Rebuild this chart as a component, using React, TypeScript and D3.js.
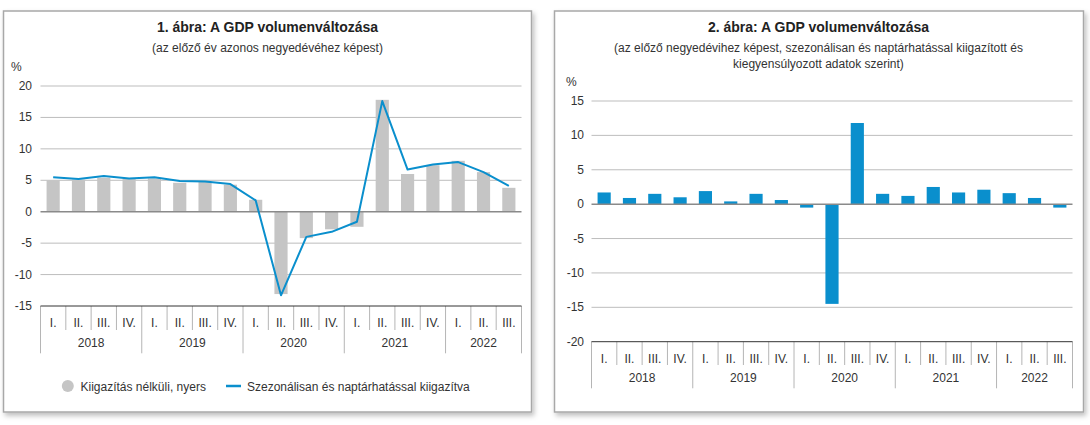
import React from "react";
import * as d3 from "d3";

const years = ["2018", "2019", "2020", "2021", "2022"];
const quarters = ["I.", "II.", "III.", "IV."];
const categories: { q: string; y: string }[] = [];
years.forEach((y) => quarters.forEach((q) => categories.push({ q, y })));
const cats = categories.slice(0, 19);

const rawValues = [5.0, 5.1, 5.4, 5.2, 5.3, 4.6, 4.8, 4.3, 1.9, -13.1, -4.2, -2.8, -2.4, 17.8, 6.0, 7.4, 8.1, 6.3, 3.8];
const adjValues = [5.5, 5.2, 5.7, 5.3, 5.5, 4.9, 4.8, 4.4, 1.8, -13.3, -4.0, -3.2, -1.6, 17.6, 6.7, 7.5, 7.9, 6.3, 4.1];
const qoqValues = [1.7, 0.9, 1.5, 1.0, 1.9, 0.4, 1.5, 0.6, -0.5, -14.5, 11.8, 1.5, 1.2, 2.5, 1.7, 2.1, 1.6, 0.9, -0.5];

const ticks1 = [20, 15, 10, 5, 0, -5, -10, -15];
const ticks2 = [15, 10, 5, 0, -5, -10, -15, -20];

const title1 = "1. ábra: A GDP volumenváltozása";
const sub1 = "(az előző év azonos negyedévéhez képest)";
const title2 = "2. ábra: A GDP volumenváltozása";
const sub2a = "(az előző negyedévihez képest, szezonálisan és naptárhatással kiigazított és";
const sub2b = "kiegyensúlyozott adatok szerint)";
const legend1 = "Kiigazítás nélküli, nyers";
const legend2 = "Szezonálisan és naptárhatással kiigazítva";

const FONT = "'Liberation Sans', Arial, sans-serif";
const GRAY = "#c5c5c5";
const BLUE = "#0a8fcd";
const TXT = "#333";

type AxisProps = {
  x0: number;
  x1: number;
  y: d3.ScaleLinear<number, number>;
  ticks: number[];
  axisY: number;
  qDivEnd: number;
  yDivEnd: number;
  qLabelY: number;
  yLabelY: number;
  labelX: number;
};

function Frame(p: AxisProps) {
  const x = d3.scaleBand<number>().domain(cats.map((_, i) => i)).range([p.x0, p.x1]).padding(0);
  const step = x.step();
  return (
    <g>
      {p.ticks.map((t) => (
        <g key={t}>
          {t !== p.ticks[p.ticks.length - 1] && t !== 0 && (
            <line x1={p.x0} x2={p.x1} y1={p.y(t)} y2={p.y(t)} stroke="#bdbdbd" strokeWidth={1} />
          )}
          <text x={p.labelX} y={p.y(t) + 4} textAnchor="end" fontSize={12} fill={TXT} fontFamily={FONT}>
            {t}
          </text>
        </g>
      ))}
      {d3.range(cats.length + 1).map((i) => {
        const xx = p.x0 + i * step;
        const isYear = i % 4 === 0 || i === cats.length;
        return (
          <line
            key={"d" + i}
            x1={xx}
            x2={xx}
            y1={p.axisY}
            y2={isYear ? p.yDivEnd : p.qDivEnd}
            stroke="#b5b5b5"
            strokeWidth={1}
          />
        );
      })}
      {cats.map((c, i) => (
        <text
          key={"q" + i}
          x={(x(i) as number) + step / 2}
          y={p.qLabelY}
          textAnchor="middle"
          fontSize={12}
          fill={TXT}
          fontFamily={FONT}
        >
          {c.q}
        </text>
      ))}
      {years.map((yr, j) => {
        const start = j * 4;
        const end = Math.min(cats.length, start + 4);
        const cx = p.x0 + ((start + end) / 2) * step;
        return (
          <text key={yr} x={cx} y={p.yLabelY} textAnchor="middle" fontSize={12} fill={TXT} fontFamily={FONT}>
            {yr}
          </text>
        );
      })}
      <line x1={p.x0} x2={p.x1} y1={p.axisY} y2={p.axisY} stroke="#333" strokeWidth={1} />
    </g>
  );
}

export default function App() {
  const p1x0 = 40.5,
    p1x1 = 521.5;
  const y1 = d3.scaleLinear().domain([-15, 20]).range([306, 86]);
  const xb1 = d3.scaleBand<number>().domain(cats.map((_, i) => i)).range([p1x0, p1x1]).padding(0);
  const bw1 = xb1.bandwidth() * 0.52;
  const lineGen = d3
    .line<number>()
    .x((_, i) => (xb1(i) as number) + xb1.bandwidth() / 2)
    .y((d) => y1(d));

  const p2x0 = 591.5,
    p2x1 = 1072.5;
  const y2 = d3.scaleLinear().domain([-20, 15]).range([341.7, 101]);
  const xb2 = d3.scaleBand<number>().domain(cats.map((_, i) => i)).range([p2x0, p2x1]).padding(0);
  const bw2 = xb2.bandwidth() * 0.52;

  return (
    <div style={{ position: "absolute", left: 0, top: 0 }}>
      <svg width={1090} height={425} style={{ display: "block", background: "#fff" }}>
        <defs>
          <filter id="sh" x="-5%" y="-5%" width="110%" height="110%">
            <feDropShadow dx="2" dy="3" stdDeviation="2.5" floodColor="#000" floodOpacity="0.25" />
          </filter>
        </defs>
        <rect x={3.5} y={11} width={528} height={401} fill="#fff" stroke="#a8a8a8" strokeWidth={1.5} filter="url(#sh)" />
        <rect x={554.5} y={11} width={529} height={401} fill="#fff" stroke="#a8a8a8" strokeWidth={1.5} filter="url(#sh)" />

        <text x={267.5} y={31.5} textAnchor="middle" fontSize={14} fontWeight="bold" fill="#222" fontFamily={FONT}>
          {title1}
        </text>
        <text x={267.5} y={52} textAnchor="middle" fontSize={12} fill={TXT} fontFamily={FONT}>
          {sub1}
        </text>
        <text x={11} y={71} fontSize={12} fill={TXT} fontFamily={FONT}>
          %
        </text>
        <Frame
          x0={p1x0}
          x1={p1x1}
          y={y1}
          ticks={ticks1}
          axisY={306}
          qDivEnd={330}
          yDivEnd={353.3}
          qLabelY={326.5}
          yLabelY={346.5}
          labelX={32}
        />
        {rawValues.map((v, i) => (
          <rect
            key={"b1" + i}
            x={(xb1(i) as number) + (xb1.bandwidth() - bw1) / 2}
            y={y1(Math.max(0, v))}
            width={bw1}
            height={Math.abs(y1(v) - y1(0))}
            fill={GRAY}
          />
        ))}
        <line x1={p1x0} x2={p1x1} y1={y1(0)} y2={y1(0)} stroke="#8a8a8a" strokeWidth={1.5} />
        <path d={lineGen(adjValues) || ""} fill="none" stroke={BLUE} strokeWidth={2} strokeLinejoin="round" />

        <circle cx={67.8} cy={386} r={6} fill={GRAY} />
        <text x={80.5} y={390.5} fontSize={12} fill={TXT} fontFamily={FONT}>
          {legend1}
        </text>
        <line x1={226} x2={241} y1={386} y2={386} stroke={BLUE} strokeWidth={2.5} />
        <text x={247} y={390.5} fontSize={12} fill={TXT} fontFamily={FONT}>
          {legend2}
        </text>

        <text x={818.5} y={31.5} textAnchor="middle" fontSize={14} fontWeight="bold" fill="#222" fontFamily={FONT}>
          {title2}
        </text>
        <text x={818.5} y={52} textAnchor="middle" fontSize={12} fill={TXT} fontFamily={FONT}>
          {sub2a}
        </text>
        <text x={818.5} y={67.5} textAnchor="middle" fontSize={12} fill={TXT} fontFamily={FONT}>
          {sub2b}
        </text>
        <text x={566} y={85.5} fontSize={12} fill={TXT} fontFamily={FONT}>
          %
        </text>
        <Frame
          x0={p2x0}
          x1={p2x1}
          y={y2}
          ticks={ticks2}
          axisY={341.7}
          qDivEnd={365}
          yDivEnd={388.3}
          qLabelY={362.5}
          yLabelY={381.5}
          labelX={584}
        />
        {qoqValues.map((v, i) => (
          <rect
            key={"b2" + i}
            x={(xb2(i) as number) + (xb2.bandwidth() - bw2) / 2}
            y={y2(Math.max(0, v))}
            width={bw2}
            height={Math.abs(y2(v) - y2(0))}
            fill={BLUE}
          />
        ))}
        <line x1={p2x0} x2={p2x1} y1={y2(0)} y2={y2(0)} stroke="#8a8a8a" strokeWidth={1.5} />
      </svg>
    </div>
  );
}
